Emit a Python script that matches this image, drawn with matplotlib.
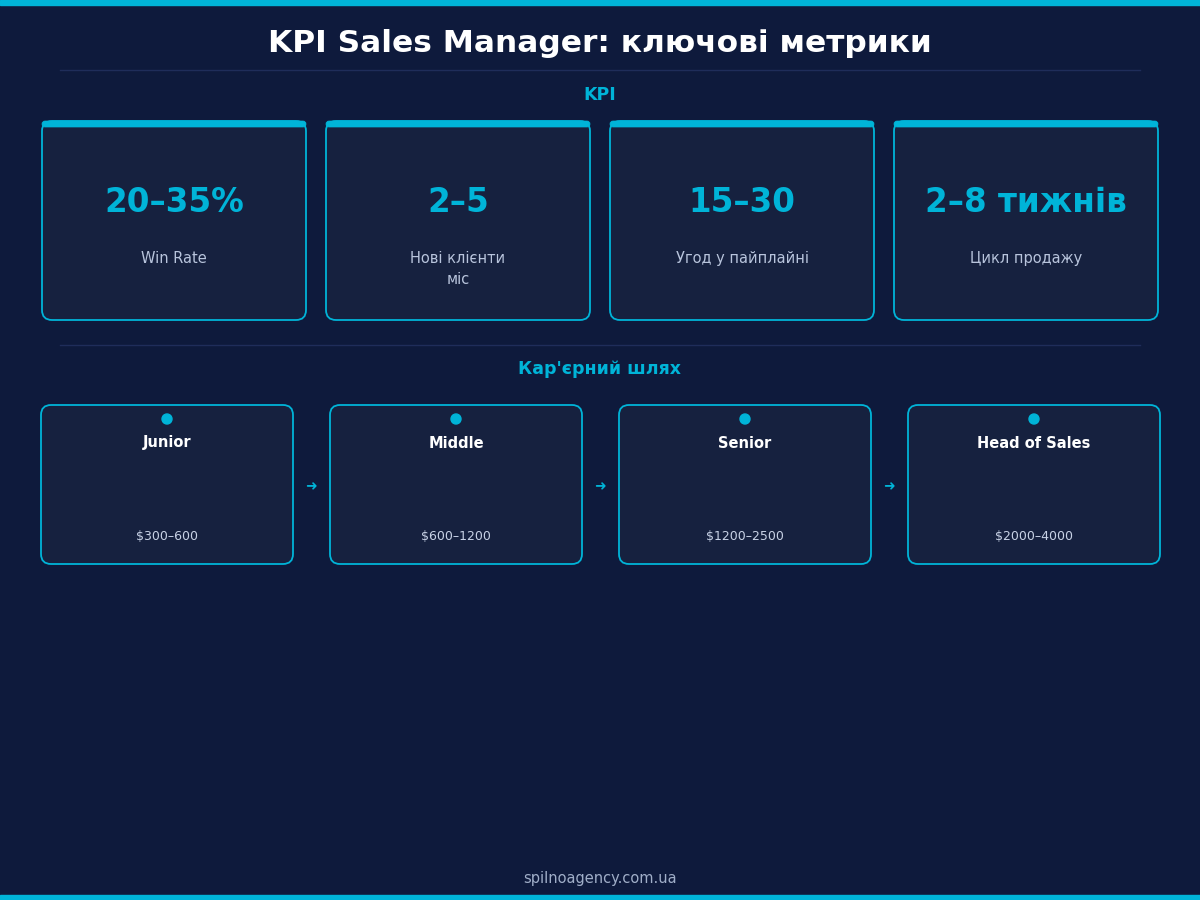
import matplotlib
matplotlib.use("Agg")
import matplotlib.pyplot as plt
from matplotlib.patches import FancyBboxPatch, Rectangle, Circle

kpi_values = ["20–35%", "2–5", "15–30", "2–8 тижнів"]
kpi_labels = ["Win Rate", "Нові клієнти\nміс", "Угод у пайплайні", "Цикл продажу"]
career_levels = ["Junior", "Middle", "Senior", "Head of Sales"]
career_salaries = ["$300–600", "$600–1200", "$1200–2500", "$2000–4000"]

BG = "#0e1a3c"
CARD = "#16213f"
CYAN = "#00b4d8"
plt.rcParams['font.family'] = ['DejaVu Sans']

fig = plt.figure(figsize=(12, 9), dpi=100, facecolor=BG)
ax = fig.add_axes([0, 0, 1, 1])
ax.set_xlim(0, 1200); ax.set_ylim(900, 0); ax.axis('off')
ax.set_facecolor(BG)

ax.add_patch(Rectangle((0, 0), 1200, 5, color=CYAN))
ax.add_patch(Rectangle((0, 895), 1200, 5, color=CYAN))
ax.text(600, 43, "KPI Sales Manager: ключові метрики", color="white", fontsize=22.5,
        fontweight='bold', ha='center', va='center')
ax.plot([60, 1140], [70, 70], color="#1f2d5a", lw=1)
ax.text(600, 95, "KPI", color=CYAN, fontsize=12.5, fontweight='bold', ha='center', va='center')

for i, (v, l) in enumerate(zip(kpi_values, kpi_labels)):
    x0 = 42 + i * 284
    ax.add_patch(FancyBboxPatch((x0, 121), 264, 199, boxstyle="round,pad=0,rounding_size=10",
                                facecolor=CARD, edgecolor=CYAN, lw=1.3))
    ax.add_patch(FancyBboxPatch((x0, 121), 264, 6, boxstyle="round,pad=0,rounding_size=3",
                                facecolor=CYAN, edgecolor=CYAN, lw=0.5))
    ax.text(x0 + 132, 203, v, color=CYAN, fontsize=23.5, fontweight='bold', ha='center', va='center')
    ax.text(x0 + 132, 251, l, color="#b8c4dc", fontsize=10.5, ha='center', va='top',
            linespacing=1.5)

ax.plot([60, 1140], [345, 345], color="#1f2d5a", lw=1)
ax.text(600, 369, "Кар'єрний шлях", color=CYAN, fontsize=12.5, fontweight='bold', ha='center', va='center')

for i, (n, s) in enumerate(zip(career_levels, career_salaries)):
    x0 = 41 + i * 289
    ax.add_patch(FancyBboxPatch((x0, 405), 252, 159, boxstyle="round,pad=0,rounding_size=10",
                                facecolor=CARD, edgecolor=CYAN, lw=1.3))
    ax.add_patch(Circle((x0 + 126, 419), 5, color=CYAN))
    ax.text(x0 + 126, 443, n, color="white", fontsize=10.5, fontweight='bold', ha='center', va='center')
    ax.text(x0 + 126, 537, s, color="#c8d2e6", fontsize=9, ha='center', va='center')
    if i < 3:
        ax.text(x0 + 270, 486, "➜", color=CYAN, fontsize=10, ha='center', va='center')

ax.text(600, 879, "spilnoagency.com.ua", color="#a0aec8", fontsize=10.5, ha='center', va='center')
fig.savefig("out.png", dpi=100, facecolor=BG)
